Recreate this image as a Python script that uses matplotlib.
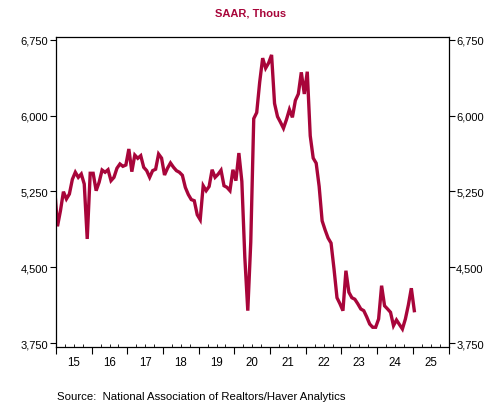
import numpy as np
import pandas as pd
import matplotlib
matplotlib.use('Agg')
import matplotlib.pyplot as plt
from matplotlib.ticker import FuncFormatter, MultipleLocator
import matplotlib.transforms as mtransforms

plt.rcParams['font.family'] = ['Liberation Sans', 'DejaVu Sans']

# Existing home sales, SAAR, thousands (monthly, Dec 2014 - Jan 2025)
start_month = '2014-12'
sales = [
    5300,
    # 2015
    4906, 5060, 5248, 5176, 5225, 5370, 5440, 5390, 5423, 5324, 4781, 5430,
    # 2016
    5430, 5258, 5341, 5462, 5440, 5465, 5357, 5390, 5480, 5522, 5499, 5512,
    # 2017
    5670, 5446, 5610, 5578, 5604, 5489, 5456, 5390, 5456, 5470, 5620, 5580,
    # 2018
    5413, 5480, 5532, 5490, 5456, 5440, 5410, 5290, 5220, 5170, 5159, 5020,
    # 2019
    4971, 5307, 5258, 5300, 5465, 5390, 5420, 5460, 5307, 5291, 5258, 5465,
    # 2020
    5357, 5630, 5350, 4600, 4072, 4750, 5970, 6030, 6330, 6568, 6469, 6520,
    # 2021
    6600, 6120, 5990, 5934, 5875, 5960, 6060, 5983, 6150, 6214, 6428, 6214,
    # 2022
    6434, 5800, 5580, 5530, 5300, 4960, 4870, 4790, 4740, 4484, 4200, 4140,
    # 2023
    4072, 4467, 4254, 4200, 4185, 4140, 4089, 4072, 4010, 3940, 3908, 3908,
    # 2024
    3990, 4319, 4120, 4089, 4056, 3924, 3980, 3935, 3891, 3990, 4128, 4294,
    # 2025
    4072,
]
year_labels = ['15', '16', '17', '18', '19', '20', '21', '22', '23', '24', '25']
y_ticks = [3750, 4500, 5250, 6000, 6750]

red = '#A8053A'

dates = pd.date_range(start_month, periods=len(sales), freq='MS')
x = dates.year + (dates.month - 0.5) / 12.0

fig = plt.figure(figsize=(4.84, 4.06), dpi=100)
ax = fig.add_axes([56/484, 1 - 348/406, (448.5 - 56)/484, (348 - 38)/406])

ax.plot(x, sales, color=red, lw=2.4, solid_joinstyle='miter', clip_on=True)

ax.set_xlim(2015, 2026)
ax.set_ylim(3713, 6777)

# y axis both sides
ax.set_yticks(y_ticks)
ax.yaxis.set_major_formatter(FuncFormatter(lambda v, p: f'{int(v):,}'))
ax.tick_params(axis='y', which='major', direction='out', length=4, width=0.8,
               labelsize=8, left=True, right=True, labelleft=True, labelright=True,
               pad=1.5, colors='black')

# x axis: year ticks out, quarter ticks in, labels centred in the year
ax.xaxis.set_major_locator(MultipleLocator(1))
ax.xaxis.set_minor_locator(MultipleLocator(0.25))
ax.tick_params(axis='x', which='major', direction='out', length=5, width=0.8,
               labelbottom=False)
ax.tick_params(axis='x', which='minor', direction='in', length=2, width=0.6)

trans = mtransforms.blended_transform_factory(ax.transData, ax.transAxes)
for i, lab in enumerate(year_labels):
    ax.text(2015.5 + i, -0.03, lab, transform=trans, ha='center', va='top',
            fontsize=8.3)

for s in ax.spines.values():
    s.set_linewidth(0.9)

fig.text(251/484, 1 - 13/406, 'SAAR, Thous', color=red, fontsize=8,
         fontweight='bold', ha='center', va='center')
fig.text(57/484, 1 - 397/406, 'Source:  National Association of Realtors/Haver Analytics',
         fontsize=8.2, ha='left', va='center')

fig.savefig('out.png', dpi=100)
